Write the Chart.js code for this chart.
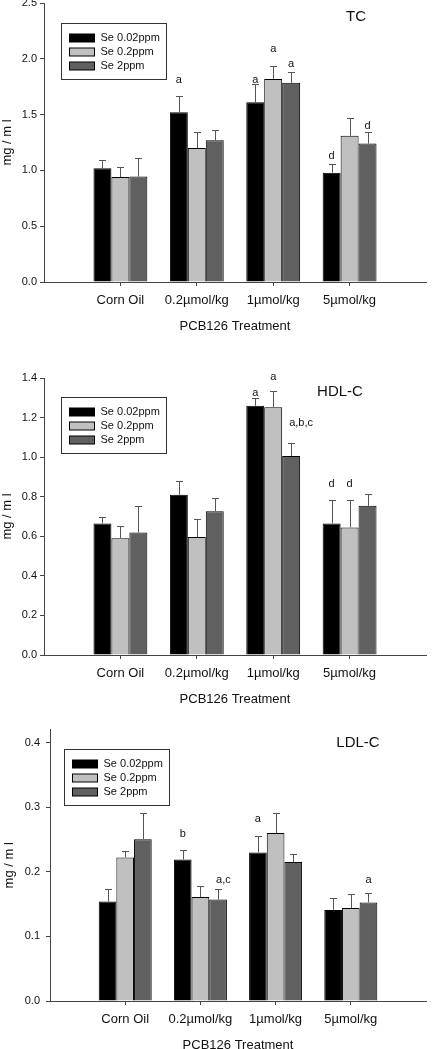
<!DOCTYPE html>
<html>
<head>
<meta charset="utf-8">
<script src="https://cdn.jsdelivr.net/npm/chart.js@4.4.1/dist/chart.umd.min.js"></script>
<style>
  body { margin: 0; width: 433px; height: 1049px; overflow: hidden; background: #fff; position: relative; }
  canvas { position: absolute; left: 0; }
</style>
</head>
<body>
<canvas id="tc" width="433" height="341" style="top:-7px"></canvas>
<canvas id="hdl" width="433" height="339" style="top:368px"></canvas>
<canvas id="ldl" width="433" height="336" style="top:717px"></canvas>
<script>
// categories and series
var categories = ['Corn Oil', '0.2µmol/kg', '1µmol/kg', '5µmol/kg'];
var seriesNames = ['Se 0.02ppm', 'Se 0.2ppm', 'Se 2ppm'];
var seriesColors = ['#000000', '#c0c0c0', '#606060'];

// TC (mean, SEM)
var tcMean = [
  [1.02, 1.52, 1.61, 0.98],
  [0.94, 1.20, 1.82, 1.31],
  [0.945, 1.27, 1.785, 1.24]
];
var tcErr = [
  [0.07, 0.145, 0.16, 0.075],
  [0.09, 0.14, 0.115, 0.16],
  [0.165, 0.095, 0.10, 0.10]
];
var tcLetters = [
  ['', 'a', 'a', 'd'],
  ['', '', 'a', ''],
  ['', '', 'a', 'd']
];
var tcLetterY = [
  [null, 1.814, 1.814, 1.129],
  [null, null, 2.09, null],
  [null, null, 1.952, 1.401]
];

// HDL-C
var hdlMean = [
  [0.665, 0.81, 1.26, 0.665],
  [0.59, 0.596, 1.252, 0.645],
  [0.619, 0.727, 1.006, 0.754]
];
var hdlErr = [
  [0.032, 0.07, 0.037, 0.116],
  [0.06, 0.09, 0.08, 0.14],
  [0.133, 0.064, 0.068, 0.062]
];
var hdlLetters = [
  ['', '', 'a', 'd'],
  ['', '', 'a', 'd'],
  ['', '', 'a,b,c', '']
];
var hdlLetterY = [
  [null, null, 1.326, 0.863],
  [null, null, 1.407, 0.863],
  [null, null, 1.174, null]
];

// LDL-C
var ldlMean = [
  [0.154, 0.219, 0.23, 0.141],
  [0.222, 0.161, 0.26, 0.144],
  [0.2505, 0.157, 0.215, 0.1526]
];
var ldlErr = [
  [0.019, 0.014, 0.025, 0.019],
  [0.01, 0.017, 0.031, 0.021],
  [0.04, 0.017, 0.012, 0.015]
];
var ldlLetters = [
  ['', 'b', 'a', ''],
  ['', '', '', ''],
  ['', 'a,c', '', 'a']
];
var ldlLetterY = [
  [null, 0.2587, 0.2816, null],
  [null, null, null, null],
  [null, 0.188, null, 0.188]
];

var FONT = "'Liberation Sans', Arial, sans-serif";
var axisColor = '#444';
var textColor = '#111';

function pad(arr) { return [null].concat(arr, [null]); }

// one-sided error bars, significance letters, legend box, panel title
var extras = {
  id: 'extras',
  afterDatasetsDraw: function (chart, args, o) {
    var ctx = chart.ctx, yScale = chart.scales.y;
    ctx.save();
    ctx.lineWidth = 1;
    ctx.strokeStyle = '#555';
    chart.data.datasets.forEach(function (ds, i) {
      var meta = chart.getDatasetMeta(i);
      ds.data.forEach(function (v, j) {
        if (v === null) return;
        var el = meta.data[j];
        var x = Math.round(el.x) + 0.5;
        var y0 = el.y;
        var y1 = Math.round(yScale.getPixelForValue(v + ds.errors[j])) + 0.5;
        ctx.beginPath();
        ctx.moveTo(x, y0);
        ctx.lineTo(x, y1);
        ctx.moveTo(x - 3.5, y1);
        ctx.lineTo(x + 3.5, y1);
        ctx.stroke();
      });
    });
    ctx.fillStyle = textColor;
    ctx.font = '11px ' + FONT;
    ctx.textBaseline = 'middle';
    chart.data.datasets.forEach(function (ds, i) {
      var meta = chart.getDatasetMeta(i);
      ds.letters.forEach(function (t, j) {
        if (!t) return;
        var el = meta.data[j];
        var y = yScale.getPixelForValue(ds.letterY[j]);
        if (t.indexOf(',') >= 0) {
          ctx.textAlign = 'left';
          ctx.fillText(t, el.x - 2, y);
        } else {
          ctx.textAlign = 'center';
          ctx.fillText(t, el.x, y);
        }
      });
    });
    ctx.restore();
  },
  afterDraw: function (chart, args, o) {
    var ctx = chart.ctx, a = chart.chartArea;
    var x0 = Math.round(a.left + o.legendDx) + 0.5;
    var y0 = Math.round(a.top + o.legendDy) + 0.5;
    ctx.save();
    ctx.lineWidth = 1;
    ctx.strokeStyle = '#333';
    ctx.strokeRect(x0, y0, 105, 56);
    ctx.font = '11px ' + FONT;
    ctx.textBaseline = 'middle';
    ctx.textAlign = 'left';
    chart.data.datasets.forEach(function (ds, i) {
      var cy = Math.round(y0 + 14 + i * 14);
      ctx.fillStyle = ds.backgroundColor;
      ctx.fillRect(x0 + 8, cy - 4, 25, 8);
      ctx.strokeStyle = '#000';
      ctx.strokeRect(x0 + 8, cy - 4, 25, 8);
      ctx.fillStyle = textColor;
      ctx.fillText(ds.label, x0 + 39, cy);
    });
    ctx.font = '15px ' + FONT;
    ctx.textAlign = 'center';
    ctx.fillText(o.title, a.right - o.titleFromRight, a.top + o.titleDy);
    ctx.restore();
  }
};

function buildPanel(id, p) {
  var datasets = seriesNames.map(function (name, i) {
    return {
      label: name,
      data: pad(p.mean[i]),
      errors: pad(p.err[i]),
      letters: pad(p.letters[i]),
      letterY: pad(p.letterY[i]),
      backgroundColor: seriesColors[i],
      borderColor: '#000',
      borderWidth: 1,
      categoryPercentage: 0.705,
      barPercentage: 1
    };
  });
  return new Chart(document.getElementById(id), {
    type: 'bar',
    data: { labels: pad(categories).map(function (c) { return c || ''; }), datasets: datasets },
    plugins: [extras],
    options: {
      responsive: false,
      animation: false,
      devicePixelRatio: 1,
      layout: { padding: { top: 10, left: 0, right: p.rightPad, bottom: 0 } },
      plugins: {
        legend: { display: false },
        tooltip: { enabled: false },
        extras: { legendDx: p.legendDx, legendDy: p.legendDy, title: p.title, titleFromRight: p.titleFromRight, titleDy: p.titleDy }
      },
      scales: {
        x: {
          type: 'category',
          offset: false,
          grid: {
            display: true, offset: false, drawOnChartArea: false, drawTicks: true, tickLength: 4,
            color: function (c) { return (c.index === 0 || c.index === 5) ? 'rgba(0,0,0,0)' : axisColor; }
          },
          border: { display: true, color: axisColor, width: 1 },
          ticks: { color: textColor, font: { family: FONT, size: 13 }, padding: 7, maxRotation: 0, autoSkip: false },
          title: { display: true, text: 'PCB126 Treatment', color: textColor, font: { family: FONT, size: 13 }, padding: { top: 0, bottom: 0 } },
          afterFit: function (s) { s.height = 52; }
        },
        y: {
          min: 0,
          max: p.max,
          bounds: 'data',
          grid: { drawOnChartArea: false, drawTicks: true, tickLength: 4, color: axisColor },
          border: { display: true, color: axisColor, width: 1 },
          ticks: {
            stepSize: p.step, includeBounds: false, padding: p.tickPad, color: textColor,
            font: { family: FONT, size: 11 },
            callback: function (v) { return v.toFixed(1); }
          },
          title: { display: true, text: 'mg / m l', color: textColor, font: { family: FONT, size: 13 }, padding: { top: p.yTitlePad, bottom: 0 } },
          afterFit: function (s) { s.width = p.yAxisWidth; }
        }
      }
    }
  });
}

buildPanel('tc', {
  mean: tcMean, err: tcErr, letters: tcLetters, letterY: tcLetterY,
  max: 2.5, step: 0.5, yAxisWidth: 44, tickPad: 3, rightPad: 0, yTitlePad: 0,
  legendDx: 17, legendDy: 20, title: 'TC', titleFromRight: 70, titleDy: 14
});
buildPanel('hdl', {
  mean: hdlMean, err: hdlErr, letters: hdlLetters, letterY: hdlLetterY,
  max: 1.4, step: 0.2, yAxisWidth: 44, tickPad: 3, rightPad: 0, yTitlePad: 0,
  legendDx: 17, legendDy: 19, title: 'HDL-C', titleFromRight: 86, titleDy: 14
});
buildPanel('ldl', {
  mean: ldlMean, err: ldlErr, letters: ldlLetters, letterY: ldlLetterY,
  max: 0.42, step: 0.1, yAxisWidth: 50, tickPad: 6, rightPad: 3, yTitlePad: 1.5,
  legendDx: 14, legendDy: 19, title: 'LDL-C', titleFromRight: 68, titleDy: 13
});
</script>
</body>
</html>
